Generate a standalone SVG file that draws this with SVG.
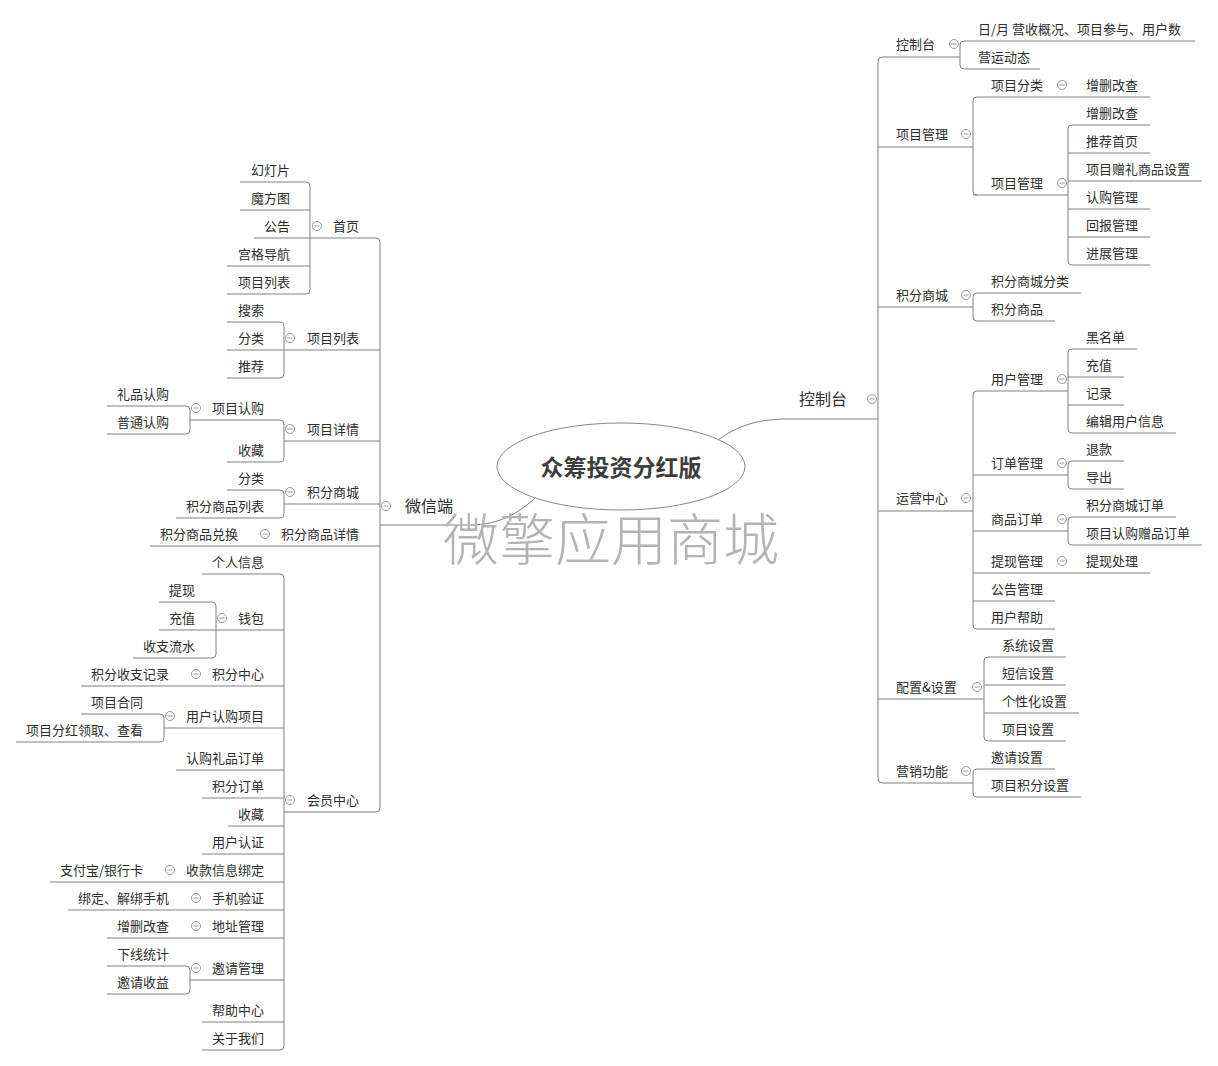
<svg xmlns="http://www.w3.org/2000/svg" xmlns:xlink="http://www.w3.org/1999/xlink" width="1218" height="1066" viewBox="0 0 1218 1066">
<style>
text{font-family:"Noto Sans CJK SC","Liberation Sans",sans-serif;font-size:13px;fill:#2e2e2e;dominant-baseline:central;transform:translateY(-1px)}
.e{text-anchor:end}
.m{font-size:16px}
.title{font-size:23px;font-weight:bold;fill:#3d3d3d;text-anchor:middle}
.wm{font-size:56px;fill:#b4b4b4;text-anchor:middle;font-weight:300}
.l,.u{stroke:#808080;stroke-width:1;fill:none}
.k circle{fill:#fff;stroke:#9a9a9a;stroke-width:1}
.k line{stroke:#9a9a9a;stroke-width:1}
</style>
<defs>
<g id="k" class="k"><circle r="4.5"/><line x1="-2.5" x2="2.5" y1="0" y2="0"/></g>
</defs>
<rect width="1218" height="1066" fill="#fff"/>

<g id="connectors">
<path class="l" d="M718,440 C740,424 760,419 790,419 H878"/>
<path class="l" d="M380,525 H470 C500,525 520,512 535,498"/>
<!-- right brackets -->
<path class="l" d="M882,57 Q878,57 878,61 V779 Q878,783 882,783"/>
<path class="l" d="M964,41 Q960,41 960,45 V65 Q960,69 964,69"/>
<path class="l" d="M977,97 Q973,97 973,101 V191 Q973,195 977,195"/>
<path class="l" d="M1072,125 Q1068,125 1068,129 V261 Q1068,265 1072,265"/>
<path class="l" d="M977,293 Q973,293 973,297 V317 Q973,321 977,321"/>
<path class="l" d="M977,391 Q973,391 973,395 V625 Q973,629 977,629"/>
<path class="l" d="M1072,349 Q1068,349 1068,353 V429 Q1068,433 1072,433"/>
<path class="l" d="M1072,461 Q1068,461 1068,465 V485 Q1068,489 1072,489"/>
<path class="l" d="M1072,517 Q1068,517 1068,521 V541 Q1068,545 1072,545"/>
<path class="l" d="M988,657 Q984,657 984,661 V737 Q984,741 988,741"/>
<path class="l" d="M977,769 Q973,769 973,773 V793 Q973,797 977,797"/>
<!-- left brackets -->
<path class="l" d="M376,238 Q380,238 380,242 V808 Q380,812 376,812"/>
<path class="l" d="M306,182 Q310,182 310,186 V290 Q310,294 306,294"/>
<path class="l" d="M280,322 Q284,322 284,326 V374 Q284,378 280,378"/>
<path class="l" d="M280,420 Q284,420 284,424 V458 Q284,462 280,462"/>
<path class="l" d="M186,406 Q190,406 190,410 V430 Q190,434 186,434"/>
<path class="l" d="M280,490 Q284,490 284,494 V514 Q284,518 280,518"/>
<path class="l" d="M280,574 Q284,574 284,578 V1046 Q284,1050 280,1050"/>
<path class="l" d="M212,602 Q216,602 216,606 V654 Q216,658 212,658"/>
<path class="l" d="M160,714 Q164,714 164,718 V738 Q164,742 160,742"/>
<path class="l" d="M186,966 Q190,966 190,970 V990 Q190,994 186,994"/>
</g>

<g id="root">
<ellipse cx="621" cy="466.5" rx="124" ry="43.5" fill="#fff" stroke="#888" stroke-width="1"/>
<text class="title" x="621" y="467">众筹投资分红版</text>
</g>
<text class="wm" x="611" y="536">微擎应用商城</text>

<!-- RIGHT SIDE -->
<g id="n-kzt-main"><text class="m" x="799" y="399">控制台</text><use href="#k" x="872" y="399"/></g>

<g id="n-kzt"><path class="u" d="M882,57 H960"/><text x="896" y="44">控制台</text><use href="#k" x="954" y="44"/></g>
<g id="n-ry"><path class="u" d="M964,41 H1195"/><text x="978" y="29">日/月 营收概况、项目参与、用户数</text></g>
<g id="n-yydt"><path class="u" d="M964,69 H1040"/><text x="978" y="57">营运动态</text></g>

<g id="n-xmgl"><path class="u" d="M878,147 H973"/><text x="896" y="134">项目管理</text><use href="#k" x="966" y="134"/></g>
<g id="n-xmfl"><path class="u" d="M977,97 H1150"/><text x="991" y="85">项目分类</text><use href="#k" x="1062" y="85"/><text x="1086" y="85">增删改查</text></g>
<g id="n-xmgl2"><path class="u" d="M973,195 H1068"/><text x="991" y="183">项目管理</text><use href="#k" x="1062" y="183"/></g>
<g id="n-zsgc1"><path class="u" d="M1072,125 H1150"/><text x="1086" y="113">增删改查</text></g>
<g id="n-tjsy"><path class="u" d="M1068,153 H1150"/><text x="1086" y="141">推荐首页</text></g>
<g id="n-xmzl"><path class="u" d="M1068,181 H1202"/><text x="1086" y="169">项目赠礼商品设置</text></g>
<g id="n-rggl"><path class="u" d="M1068,209 H1150"/><text x="1086" y="197">认购管理</text></g>
<g id="n-hbgl"><path class="u" d="M1068,237 H1150"/><text x="1086" y="225">回报管理</text></g>
<g id="n-jzgl"><path class="u" d="M1072,265 H1150"/><text x="1086" y="253">进展管理</text></g>

<g id="n-jfsc"><path class="u" d="M878,307 H973"/><text x="896" y="295">积分商城</text><use href="#k" x="966" y="295"/></g>
<g id="n-jfscfl"><path class="u" d="M977,293 H1081"/><text x="991" y="281">积分商城分类</text></g>
<g id="n-jfsp"><path class="u" d="M977,321 H1055"/><text x="991" y="309">积分商品</text></g>

<g id="n-yyzx"><path class="u" d="M878,511 H973"/><text x="896" y="498">运营中心</text><use href="#k" x="966" y="498"/></g>
<g id="n-yhgl"><path class="u" d="M977,391 H1068"/><text x="991" y="379">用户管理</text><use href="#k" x="1062" y="379"/></g>
<g id="n-hmd"><path class="u" d="M1072,349 H1137"/><text x="1086" y="337">黑名单</text></g>
<g id="n-cz"><path class="u" d="M1068,377 H1124"/><text x="1086" y="365">充值</text></g>
<g id="n-jl"><path class="u" d="M1068,405 H1124"/><text x="1086" y="393">记录</text></g>
<g id="n-bjyh"><path class="u" d="M1072,433 H1176"/><text x="1086" y="421">编辑用户信息</text></g>
<g id="n-ddgl"><path class="u" d="M973,475 H1068"/><text x="991" y="463">订单管理</text><use href="#k" x="1062" y="463"/></g>
<g id="n-tk"><path class="u" d="M1072,461 H1124"/><text x="1086" y="449">退款</text></g>
<g id="n-dc"><path class="u" d="M1072,489 H1124"/><text x="1086" y="477">导出</text></g>
<g id="n-spdd"><path class="u" d="M973,531 H1068"/><text x="991" y="519">商品订单</text><use href="#k" x="1062" y="519"/></g>
<g id="n-jfscdd"><path class="u" d="M1072,517 H1176"/><text x="1086" y="505">积分商城订单</text></g>
<g id="n-xmrgdd"><path class="u" d="M1072,545 H1202"/><text x="1086" y="533">项目认购赠品订单</text></g>
<g id="n-txgl"><path class="u" d="M973,573 H1150"/><text x="991" y="561">提现管理</text><use href="#k" x="1062" y="561"/><text x="1086" y="561">提现处理</text></g>
<g id="n-gggl"><path class="u" d="M973,601 H1055"/><text x="991" y="589">公告管理</text></g>
<g id="n-yhbz"><path class="u" d="M977,629 H1055"/><text x="991" y="617">用户帮助</text></g>

<g id="n-pzsz"><path class="u" d="M878,699 H984"/><text x="896" y="687">配置&amp;设置</text><use href="#k" x="977" y="687"/></g>
<g id="n-xtsz"><path class="u" d="M988,657 H1066"/><text x="1002" y="645">系统设置</text></g>
<g id="n-dxsz"><path class="u" d="M984,685 H1066"/><text x="1002" y="673">短信设置</text></g>
<g id="n-gxh"><path class="u" d="M984,713 H1079"/><text x="1002" y="701">个性化设置</text></g>
<g id="n-xmsz"><path class="u" d="M988,741 H1066"/><text x="1002" y="729">项目设置</text></g>

<g id="n-yxgn"><path class="u" d="M882,783 H973"/><text x="896" y="771">营销功能</text><use href="#k" x="966" y="771"/></g>
<g id="n-yqsz"><path class="u" d="M977,769 H1055"/><text x="991" y="757">邀请设置</text></g>
<g id="n-xmjf"><path class="u" d="M977,797 H1081"/><text x="991" y="785">项目积分设置</text></g>

<!-- LEFT SIDE -->
<g id="n-wxd"><text class="m" x="405" y="506">微信端</text><use href="#k" x="386" y="506"/></g>

<g id="n-sy"><path class="u" d="M376,238 H310"/><text class="e" x="359" y="226">首页</text><use href="#k" x="317" y="226"/></g>
<g id="n-hdp"><path class="u" d="M306,182 H240"/><text class="e" x="290" y="170">幻灯片</text></g>
<g id="n-mft"><path class="u" d="M310,210 H240"/><text class="e" x="290" y="198">魔方图</text></g>
<g id="n-gg"><path class="u" d="M310,238 H254"/><text class="e" x="290" y="226">公告</text></g>
<g id="n-ggdh"><path class="u" d="M310,266 H227"/><text class="e" x="290" y="254">宫格导航</text></g>
<g id="n-xmlb1"><path class="u" d="M306,294 H227"/><text class="e" x="290" y="282">项目列表</text></g>

<g id="n-xmlb"><path class="u" d="M380,350 H284"/><text class="e" x="359" y="338">项目列表</text><use href="#k" x="290" y="338"/></g>
<g id="n-ss"><path class="u" d="M280,322 H227"/><text class="e" x="264" y="310">搜索</text></g>
<g id="n-fl"><path class="u" d="M284,350 H227"/><text class="e" x="264" y="338">分类</text></g>
<g id="n-tj"><path class="u" d="M280,378 H227"/><text class="e" x="264" y="366">推荐</text></g>

<g id="n-xmxq"><path class="u" d="M380,441 H284"/><text class="e" x="359" y="429">项目详情</text><use href="#k" x="290" y="429"/></g>
<g id="n-xmrg"><path class="u" d="M280,420 H190"/><text class="e" x="264" y="408">项目认购</text><use href="#k" x="196" y="408"/></g>
<g id="n-lprg"><path class="u" d="M186,406 H107"/><text class="e" x="169" y="394">礼品认购</text></g>
<g id="n-ptrg"><path class="u" d="M186,434 H107"/><text class="e" x="169" y="422">普通认购</text></g>
<g id="n-sc1"><path class="u" d="M280,462 H227"/><text class="e" x="264" y="450">收藏</text></g>

<g id="n-jfsc-l"><path class="u" d="M380,504 H284"/><text class="e" x="359" y="492">积分商城</text><use href="#k" x="290" y="492"/></g>
<g id="n-fl2"><path class="u" d="M280,490 H227"/><text class="e" x="264" y="478">分类</text></g>
<g id="n-jfsplb"><path class="u" d="M280,518 H176"/><text class="e" x="264" y="506">积分商品列表</text></g>

<g id="n-jfspxq"><path class="u" d="M380,546 H150"/><text class="e" x="359" y="534">积分商品详情</text><use href="#k" x="265" y="534"/><text class="e" x="238" y="534">积分商品兑换</text></g>

<g id="n-hyzx"><path class="u" d="M376,812 H284"/><text class="e" x="359" y="800">会员中心</text><use href="#k" x="290" y="800"/></g>
<g id="n-grxx"><path class="u" d="M280,574 H202"/><text class="e" x="264" y="562">个人信息</text></g>
<g id="n-qb"><path class="u" d="M284,630 H216"/><text class="e" x="264" y="618">钱包</text><use href="#k" x="222" y="618"/></g>
<g id="n-tx"><path class="u" d="M212,602 H159"/><text class="e" x="195" y="590">提现</text></g>
<g id="n-cz2"><path class="u" d="M216,630 H159"/><text class="e" x="195" y="618">充值</text></g>
<g id="n-szls"><path class="u" d="M212,658 H133"/><text class="e" x="195" y="646">收支流水</text></g>
<g id="n-jfzx"><path class="u" d="M284,686 H81"/><text class="e" x="264" y="674">积分中心</text><use href="#k" x="196" y="674"/><text class="e" x="169" y="674">积分收支记录</text></g>
<g id="n-yhrgxm"><path class="u" d="M284,728 H164"/><text class="e" x="264" y="716">用户认购项目</text><use href="#k" x="170" y="716"/></g>
<g id="n-xmht"><path class="u" d="M160,714 H81"/><text class="e" x="143" y="702">项目合同</text></g>
<g id="n-xmfh"><path class="u" d="M160,742 H16"/><text class="e" x="143" y="730">项目分红领取、查看</text></g>
<g id="n-rglpdd"><path class="u" d="M284,770 H176"/><text class="e" x="264" y="758">认购礼品订单</text></g>
<g id="n-jfdd"><path class="u" d="M284,798 H202"/><text class="e" x="264" y="786">积分订单</text></g>
<g id="n-sc2"><path class="u" d="M284,826 H228"/><text class="e" x="264" y="814">收藏</text></g>
<g id="n-yhrz"><path class="u" d="M284,854 H202"/><text class="e" x="264" y="842">用户认证</text></g>
<g id="n-skxx"><path class="u" d="M284,882 H50"/><text class="e" x="264" y="870">收款信息绑定</text><use href="#k" x="170" y="870"/><text class="e" x="143" y="870">支付宝/银行卡</text></g>
<g id="n-sjyz"><path class="u" d="M284,910 H68"/><text class="e" x="264" y="898">手机验证</text><use href="#k" x="196" y="898"/><text class="e" x="169" y="898">绑定、解绑手机</text></g>
<g id="n-dzgl"><path class="u" d="M284,938 H107"/><text class="e" x="264" y="926">地址管理</text><use href="#k" x="196" y="926"/><text class="e" x="169" y="926">增删改查</text></g>
<g id="n-yqgl"><path class="u" d="M284,980 H190"/><text class="e" x="264" y="968">邀请管理</text><use href="#k" x="196" y="968"/></g>
<g id="n-xxtj"><path class="u" d="M186,966 H107"/><text class="e" x="169" y="954">下线统计</text></g>
<g id="n-yqsy"><path class="u" d="M186,994 H107"/><text class="e" x="169" y="982">邀请收益</text></g>
<g id="n-bzzx"><path class="u" d="M284,1022 H202"/><text class="e" x="264" y="1010">帮助中心</text></g>
<g id="n-gywm"><path class="u" d="M280,1050 H202"/><text class="e" x="264" y="1038">关于我们</text></g>
</svg>
